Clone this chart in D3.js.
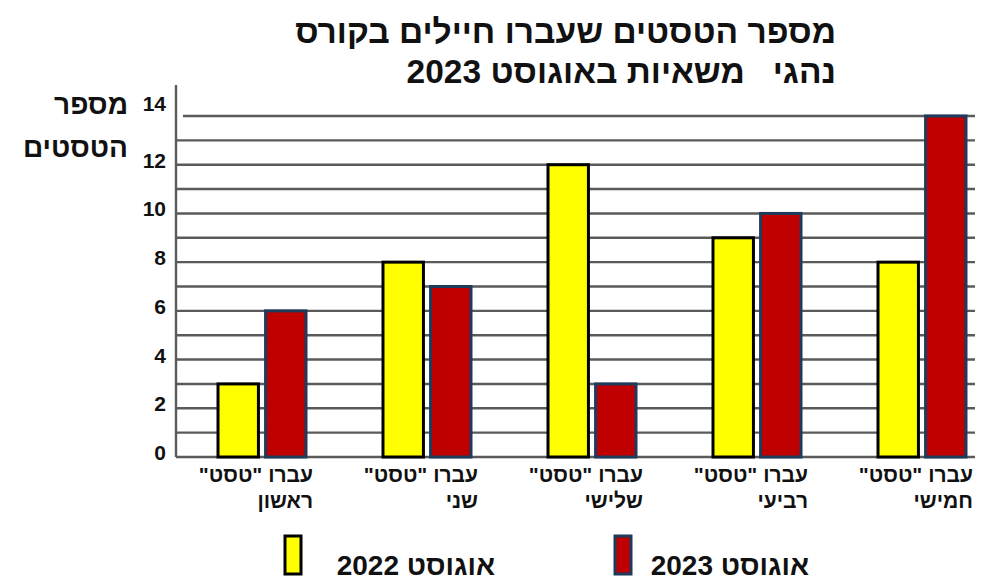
<!DOCTYPE html>
<html>
<head>
<meta charset="utf-8">
<script src="https://cdn.jsdelivr.net/npm/d3@7"></script>
<style>
  body { margin: 0; background: #fff; }
  svg text { font-family: "Liberation Sans", Arial, "DejaVu Sans", sans-serif; font-weight: bold; white-space: pre; }
</style>
</head>
<body>
<div id="chart"></div>
<script>
var categories = ['ראשון', 'שני', 'שלישי', 'רביעי', 'חמישי'];
var seriesNames = ['אוגוסט 2022', 'אוגוסט 2023'];
var values2022 = [3, 8, 12, 9, 8];
var values2023 = [6, 7, 3, 10, 14];
var yTicks = [0, 2, 4, 6, 8, 10, 12, 14];
var gridValues = d3.range(0, 15);
var titleLines = ['מספר הטסטים שעברו חיילים בקורס', 'נהגי   משאיות באוגוסט 2023'];
var yTitleLines = ['מספר', 'הטסטים'];
var labelFirstLine = 'עברו "טסט"';

var width = 986, height = 581;
var fills = ['#ffff00', '#c00000'];
var strokes = ['#000000', '#1f3b5c'];

var svg = d3.select('#chart').append('svg')
    .attr('width', width)
    .attr('height', height);

var x = d3.scalePoint().domain(categories).range([262, 922]);
var xInner = d3.scaleBand().domain([0, 1]).range([-44, 44]).paddingInner(0.15);
var y = d3.scaleLinear().domain([0, 14]).range([457, 116]);

// gridlines
svg.append('g').selectAll('line')
    .data(gridValues)
    .enter().append('line')
    .attr('x1', function(d) { return d === 14 ? 183 : 176; })
    .attr('x2', 975)
    .attr('y1', function(d) { return y(d); })
    .attr('y2', function(d) { return y(d); })
    .attr('stroke', '#5a5a5a')
    .attr('stroke-width', 2.4);

// y axis line
svg.append('line')
    .attr('x1', 176).attr('x2', 176)
    .attr('y1', 85).attr('y2', y(0))
    .attr('stroke', '#5a5a5a')
    .attr('stroke-width', 2.4);

// tick labels
svg.append('g').selectAll('text')
    .data(yTicks)
    .enter().append('text')
    .attr('x', 166)
    .attr('y', function(d) { return y(d) + (d === 14 ? -5 : 3); })
    .attr('text-anchor', 'end')
    .attr('font-size', 21)
    .attr('fill', '#111')
    .text(function(d) { return d; });

// bars
var rows = categories.map(function(c, i) {
    return { cat: c, vals: [values2022[i], values2023[i]] };
});
var groups = svg.append('g').selectAll('g')
    .data(rows)
    .enter().append('g')
    .attr('transform', function(d) { return 'translate(' + x(d.cat) + ',0)'; });

groups.selectAll('rect')
    .data(function(d) { return d.vals.map(function(v, k) { return { k: k, v: v }; }); })
    .enter().append('rect')
    .attr('x', function(d) { return xInner(d.k); })
    .attr('width', xInner.bandwidth())
    .attr('y', function(d) { return y(d.v); })
    .attr('height', function(d) { return y(0) - y(d.v); })
    .attr('fill', function(d) { return fills[d.k]; })
    .attr('stroke', function(d) { return strokes[d.k]; })
    .attr('stroke-width', 3);

// category labels
groups.append('text')
    .attr('x', 51)
    .attr('y', 482)
    .attr('direction', 'rtl')
    .attr('text-anchor', 'start')
    .attr('font-size', 21)
    .attr('fill', '#111')
    .text(labelFirstLine);
groups.append('text')
    .attr('x', 51)
    .attr('y', 508)
    .attr('direction', 'rtl')
    .attr('text-anchor', 'start')
    .attr('font-size', 21)
    .attr('fill', '#111')
    .text(function(d) { return d.cat; });

// title
svg.append('g').selectAll('text')
    .data(titleLines)
    .enter().append('text')
    .attr('x', 836)
    .attr('y', function(d, i) { return 43 + i * 40; })
    .attr('direction', 'rtl')
    .attr('text-anchor', 'start')
    .attr('font-size', 33.5)
    .attr('fill', '#111')
    .text(function(d) { return d; });

// y axis title
svg.append('g').selectAll('text')
    .data(yTitleLines)
    .enter().append('text')
    .attr('x', 128)
    .attr('y', function(d, i) { return 114 + i * 43; })
    .attr('direction', 'rtl')
    .attr('text-anchor', 'start')
    .attr('font-size', 28)
    .attr('fill', '#111')
    .text(function(d) { return d; });

// legend
var legendX = [285, 615];
var legend = svg.append('g').selectAll('g')
    .data(seriesNames)
    .enter().append('g')
    .attr('transform', function(d, i) { return 'translate(' + legendX[i] + ',0)'; });
legend.append('rect')
    .attr('x', 0).attr('y', 536)
    .attr('width', 16).attr('height', 38)
    .attr('fill', function(d, i) { return fills[i]; })
    .attr('stroke', function(d, i) { return strokes[i]; })
    .attr('stroke-width', 3);
legend.append('text')
    .attr('x', function(d, i) { return i === 0 ? 210 : 194; })
    .attr('y', 575)
    .attr('direction', 'rtl')
    .attr('text-anchor', 'start')
    .attr('font-size', 28)
    .attr('fill', '#111')
    .text(function(d) { return d; });
</script>
</body>
</html>
